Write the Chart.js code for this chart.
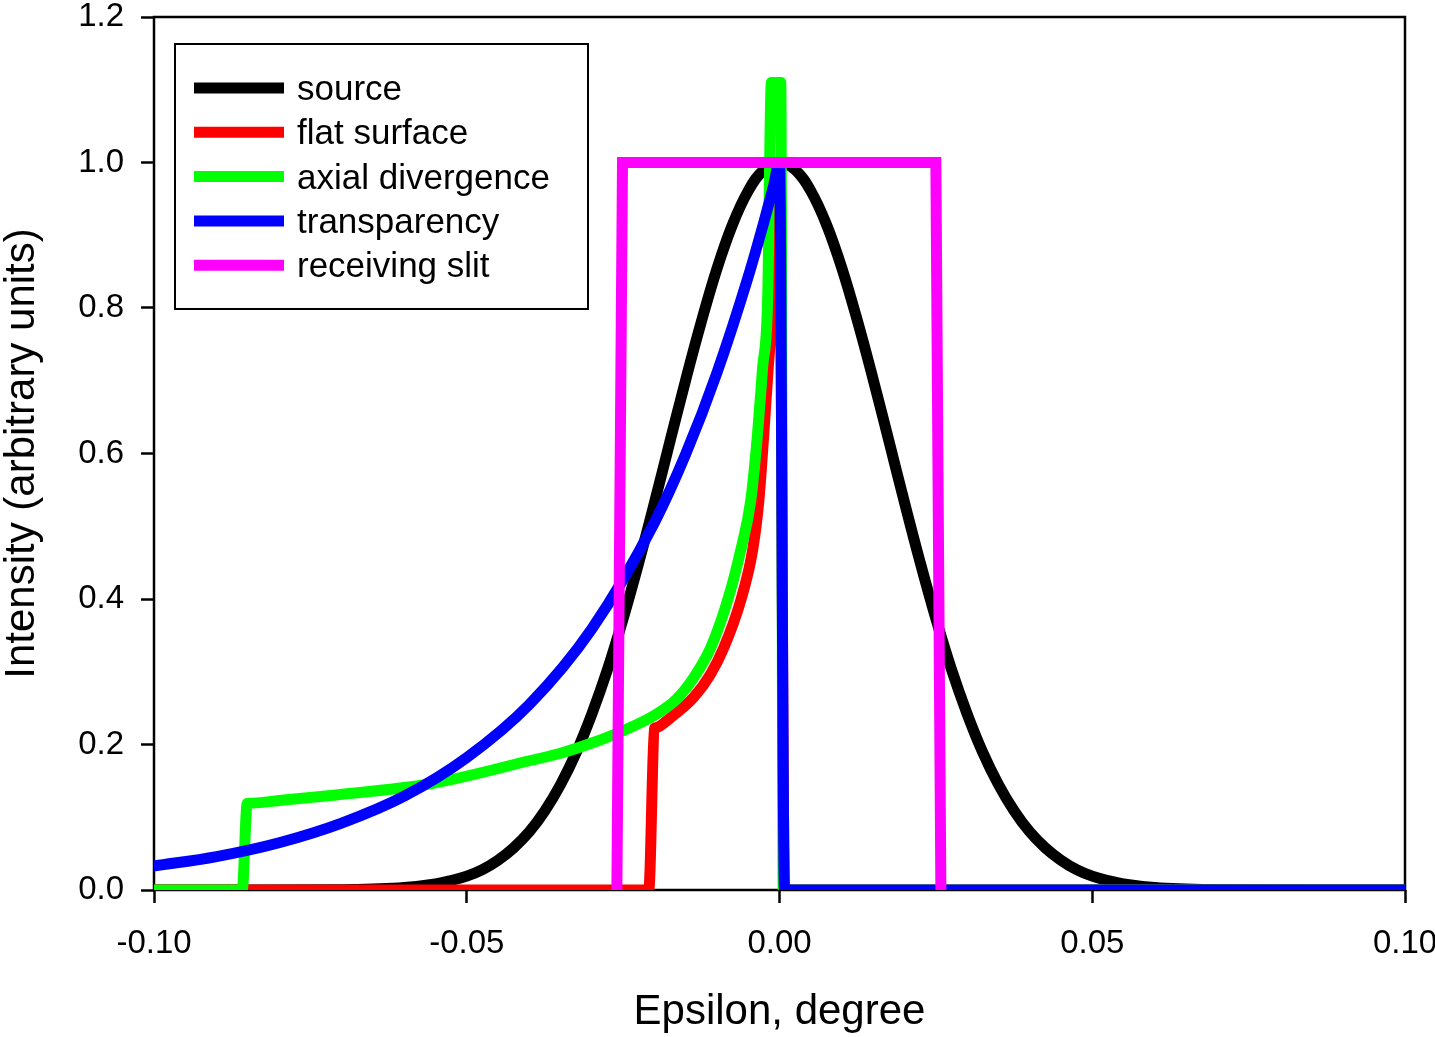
<!DOCTYPE html>
<html>
<head>
<meta charset="utf-8">
<script src="https://cdn.jsdelivr.net/npm/chart.js@4.4.1/dist/chart.umd.min.js"></script>
<style>
  html, body { margin: 0; padding: 0; background: #fff; }
  #wrap { width: 1435px; height: 1037px; }
</style>
</head>
<body>
<div id="wrap"><canvas id="profileChart"></canvas></div>
<script>
// values
const seriesNames = ['source', 'flat surface', 'axial divergence', 'transparency', 'receiving slit'];
const seriesColors = ['#000000', '#ff0000', '#00ff00', '#0000ff', '#ff00ff'];

const sourceX = [-0.10, -0.07, -0.065, -0.06, -0.055, -0.0525, -0.05, -0.0475, -0.045, -0.0425, -0.04, -0.0375, -0.035, -0.0325, -0.03, -0.0275,
                 -0.025, -0.0225, -0.02, -0.0175, -0.015, -0.0125, -0.01, -0.0075, -0.005, -0.0025, 0,
                 0.0025, 0.005, 0.0075, 0.01, 0.0125, 0.015, 0.0175, 0.02, 0.0225, 0.025, 0.0275, 0.03, 0.0325,
                 0.035, 0.0375, 0.04, 0.0425, 0.045, 0.0475, 0.05, 0.0525, 0.055, 0.06, 0.065, 0.07, 0.10];
const sourceY = [0, 0.0004, 0.0013, 0.0034, 0.0085, 0.013, 0.019, 0.028, 0.041, 0.058, 0.080, 0.109, 0.145, 0.189, 0.242, 0.303,
                 0.373, 0.450, 0.532, 0.617, 0.701, 0.781, 0.854, 0.915, 0.961, 0.990, 1.0,
                 0.990, 0.961, 0.915, 0.854, 0.781, 0.701, 0.617, 0.532, 0.450, 0.373, 0.303, 0.242, 0.189,
                 0.145, 0.109, 0.080, 0.058, 0.041, 0.028, 0.019, 0.013, 0.0085, 0.0034, 0.0013, 0.0004, 0];

const flatX = [-0.10, -0.0209, -0.0200, -0.0198, -0.0174, -0.0137, -0.0110, -0.0089, -0.0062, -0.0043, -0.0033, -0.0025, -0.0018, -0.0011, -0.0005, 0, 0.0008, 0.10];
const flatY = [0, 0, 0.222, 0.223, 0.237, 0.265, 0.297, 0.333, 0.398, 0.467, 0.535, 0.628, 0.718, 0.797, 0.9, 1.0, 0, 0];

const axialX = [-0.10, -0.0859, -0.0851, -0.0849, -0.080, -0.0717, -0.0558, -0.0398, -0.035, -0.030, -0.025, -0.020, -0.0165, -0.0137,
                -0.0110, -0.0083, -0.0062, -0.0046, -0.0035, -0.0027, -0.0019, -0.0013, 0.0002, 0.0006, 0.10];
const axialY = [0, 0, 0.119, 0.1192, 0.123, 0.130, 0.146, 0.178, 0.188, 0.202, 0.219, 0.240, 0.262, 0.292,
                0.333, 0.398, 0.467, 0.535, 0.628, 0.718, 0.81, 1.11, 1.11, 0, 0];

const transpX = [-0.10, -0.09, -0.08, -0.07, -0.06, -0.05, -0.04, -0.03, -0.02, -0.015, -0.01, -0.005, -0.0025, -0.001, 0, 0.0008, 0.10];
const transpY = [0.033, 0.046, 0.065, 0.092, 0.129, 0.182, 0.255, 0.359, 0.505, 0.599, 0.711, 0.843, 0.918, 0.966, 1.0, 0, 0];

const slitX = [-0.0260, -0.0251, 0.0250, 0.0258];
const slitY = [0, 1, 1, 0];

const xTickValues = [-0.10, -0.05, 0, 0.05, 0.10];
const xTickLabels = ['-0.10', '-0.05', '0.00', '0.05', '0.10'];
const yTickValues = [0, 0.2, 0.4, 0.6, 0.8, 1.0, 1.2];
const yTickLabels = ['0.0', '0.2', '0.4', '0.6', '0.8', '1.0', '1.2'];

const FONT = 'Arial, "Liberation Sans", sans-serif';

function toPoints(xs, ys) {
  return xs.map((x, i) => ({ x: x, y: ys[i] }));
}

const seriesX = [sourceX, flatX, axialX, transpX, slitX];
const seriesY = [sourceY, flatY, axialY, transpY, slitY];

const datasets = seriesNames.map((name, i) => ({
  label: name,
  data: toPoints(seriesX[i], seriesY[i]),
  borderColor: seriesColors[i],
  backgroundColor: seriesColors[i],
  borderWidth: 11,
  borderCapStyle: 'square',
  pointRadius: 0,
  fill: false,
  // smooth bezier for the source peak, monotone for the curves with jumps, straight for the slit
  cubicInterpolationMode: (i === 1 || i === 2 || i === 3) ? 'monotone' : 'default',
  tension: i === 0 ? 0.4 : 0,
  order: seriesNames.length - i   // source at the back, slit on top
}));

// frame round the plot area (under the data lines)
const framePlugin = {
  id: 'frame',
  beforeDatasetsDraw(chart) {
    const a = chart.chartArea;
    const ctx = chart.ctx;
    ctx.save();
    ctx.strokeStyle = '#000';
    ctx.lineWidth = 2.5;
    ctx.strokeRect(a.left, a.top, a.right - a.left, a.bottom - a.top);
    ctx.restore();
  }
};

// boxed legend inside the plot
const legendPlugin = {
  id: 'boxLegend',
  afterDraw(chart) {
    const ctx = chart.ctx;
    ctx.save();
    ctx.fillStyle = '#fff';
    ctx.fillRect(175, 44, 413, 265);
    ctx.strokeStyle = '#000';
    ctx.lineWidth = 2;
    ctx.strokeRect(175, 44, 413, 265);
    ctx.font = '35px ' + FONT;
    ctx.textBaseline = 'alphabetic';
    ctx.textAlign = 'left';
    seriesNames.forEach((name, i) => {
      const yc = 88 + i * 44.3;
      ctx.strokeStyle = seriesColors[i];
      ctx.lineWidth = 11;
      ctx.beginPath();
      ctx.moveTo(194, yc);
      ctx.lineTo(284, yc);
      ctx.stroke();
      ctx.fillStyle = '#000';
      ctx.fillText(name, 297, yc + 12);
    });
    ctx.restore();
  }
};

const ctx = document.getElementById('profileChart').getContext('2d');
new Chart(ctx, {
  type: 'line',
  data: { datasets: datasets },
  plugins: [framePlugin, legendPlugin],
  options: {
    responsive: true,
    maintainAspectRatio: false,
    animation: false,
    layout: { padding: { top: 17, right: 30, left: 0, bottom: 0 } },
    plugins: {
      legend: { display: false },
      tooltip: { enabled: false }
    },
    scales: {
      x: {
        type: 'linear',
        min: -0.10,
        max: 0.10,
        afterBuildTicks: s => { s.ticks = xTickValues.map(v => ({ value: v })); },
        afterFit: s => { s.height = 147; s.paddingLeft = 0; s.paddingRight = 0; },
        ticks: {
          color: '#000',
          font: { family: FONT, size: 33 },
          padding: 21,
          maxRotation: 0,
          autoSkip: false,
          callback: (v, i) => xTickLabels[i]
        },
        grid: {
          drawOnChartArea: false,
          drawTicks: true,
          tickLength: 13,
          tickWidth: 2.5,
          tickColor: '#000'
        },
        border: { display: false },
        title: {
          display: true,
          text: 'Epsilon, degree',
          color: '#000',
          font: { family: FONT, size: 42 },
          padding: { top: 0, bottom: -1 }
        }
      },
      y: {
        type: 'linear',
        min: 0,
        max: 1.2,
        afterBuildTicks: s => { s.ticks = yTickValues.map(v => ({ value: v })); },
        afterFit: s => { s.width = 154; s.paddingTop = 0; s.paddingBottom = 0; },
        ticks: {
          color: '#000',
          font: { family: FONT, size: 33 },
          padding: 17,
          autoSkip: false,
          callback: (v, i) => yTickLabels[i]
        },
        grid: {
          drawOnChartArea: false,
          drawTicks: true,
          tickLength: 13,
          tickWidth: 2.5,
          tickColor: '#000'
        },
        border: { display: false },
        title: {
          display: true,
          text: 'Intensity (arbitrary units)',
          color: '#000',
          font: { family: FONT, size: 42 },
          padding: { top: -3, bottom: 0 }
        }
      }
    }
  }
});
</script>
</body>
</html>
